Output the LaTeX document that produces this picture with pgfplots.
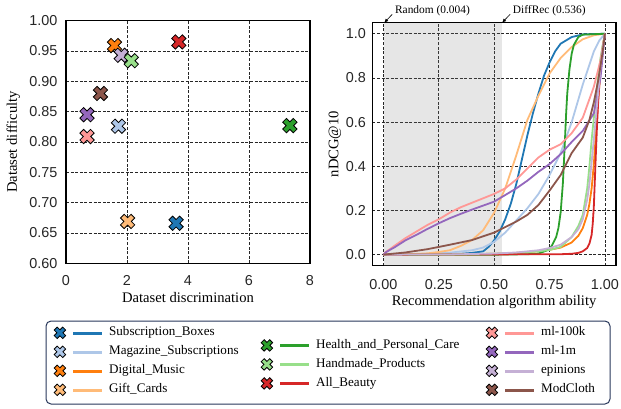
\documentclass[border=0pt]{standalone}
\usepackage{pgfplots}
\pgfplotsset{compat=1.18}
\usepackage{fontspec}
\setmainfont{Liberation Serif}
\newfontfamily\sansf{Liberation Sans}
\usetikzlibrary{arrows.meta}

\definecolor{cSB}{HTML}{1F77B4}
\definecolor{cMS}{HTML}{AEC7E8}
\definecolor{cDM}{HTML}{FF7F0E}
\definecolor{cGC}{HTML}{FFBB78}
\definecolor{cHP}{HTML}{2CA02C}
\definecolor{cHM}{HTML}{98DF8A}
\definecolor{cAB}{HTML}{D62728}
\definecolor{cMA}{HTML}{FF9896}
\definecolor{cMB}{HTML}{9467BD}
\definecolor{cEP}{HTML}{C5B0D5}
\definecolor{cMC}{HTML}{8C564B}
\definecolor{legframe}{RGB}{40,55,90}

\pgfdeclareplotmark{fatx}{%
  \pgfpathmoveto{\pgfpointpolar{0}{0.495\pgfplotmarksize}}%
  \pgfpathlineto{\pgfpointpolar{25.7}{1.06\pgfplotmarksize}}%
  \pgfpathlineto{\pgfpointpolar{64.3}{1.06\pgfplotmarksize}}%
  \pgfpathlineto{\pgfpointpolar{90}{0.495\pgfplotmarksize}}%
  \pgfpathlineto{\pgfpointpolar{115.7}{1.06\pgfplotmarksize}}%
  \pgfpathlineto{\pgfpointpolar{154.3}{1.06\pgfplotmarksize}}%
  \pgfpathlineto{\pgfpointpolar{180}{0.495\pgfplotmarksize}}%
  \pgfpathlineto{\pgfpointpolar{205.7}{1.06\pgfplotmarksize}}%
  \pgfpathlineto{\pgfpointpolar{244.3}{1.06\pgfplotmarksize}}%
  \pgfpathlineto{\pgfpointpolar{270}{0.495\pgfplotmarksize}}%
  \pgfpathlineto{\pgfpointpolar{295.7}{1.06\pgfplotmarksize}}%
  \pgfpathlineto{\pgfpointpolar{334.3}{1.06\pgfplotmarksize}}%
  \pgfpathclose
  \pgfusepathqfillstroke}

\pgfplotsset{
  myaxis/.style={scale only axis,
    axis line style={line width=1.1pt, black},
    major tick length=0pt,
    grid=major,
    major grid style={dash pattern=on 3pt off 1.6pt, line width=0.6pt, black!85},
    tick label style={font=\sansf\fontsize{14.4}{16}\selectfont, text=black!85},
    label style={font=\fontsize{14.6}{17}\selectfont},
    /pgf/number format/assume math mode=true},
  pt/.style={only marks, mark=fatx, mark size=7.5pt, mark options={draw=black, fill=#1, line width=0.8pt}},
  cv/.style={#1, line width=1.8pt, mark=none},
  hleg/.style={hide axis, scale only axis, width=10pt, height=10pt, xmin=0, xmax=1, ymin=0, ymax=1, anchor=south west,
    legend style={at={(0,0)}, anchor=west, draw=none, fill=none, inner sep=0pt,
      font=\fontsize{13.1}{15}\selectfont, row sep=5pt, legend cell align=left,
      nodes={inner sep=0pt, text height=10pt, text depth=4pt}}}
}

\newcommand{\legX}[2]{\addlegendimage{color=#1, legend image code/.code={%
  \fill[#1] (13pt,-0.9pt) rectangle (41pt,0.9pt);
  \path (49pt,0pt);
  \draw[black, line width=0.8pt, fill=#1, mark=fatx, mark size=6pt] plot coordinates {(0pt,0pt)};}}%
  \addlegendentry{#2}}

\begin{document}
\begin{tikzpicture}
\useasboundingbox (0,0) rectangle (621pt,-408pt);

% ---------------- left scatter ----------------
\begin{axis}[myaxis,
  at={(66pt,-263.3pt)}, anchor=south west,
  width=244pt, height=242.6pt,
  xmin=0, xmax=8, ymin=0.6, ymax=1.0,
  xtick={0,2,4,6,8},
  ytick={0.60,0.65,0.70,0.75,0.80,0.85,0.90,0.95,1.00},
  yticklabel style={xshift=-5pt, /pgf/number format/.cd, fixed, fixed zerofill, precision=2},
  xticklabel style={yshift=-9pt},
  xlabel={Dataset discrimination},
  ylabel={Dataset difficulty},
  xlabel style={at={(axis description cs:0.5,-0.143)}, anchor=center},
  ylabel style={at={(axis description cs:-0.216,0.5)}, anchor=center},
  clip=false]
\addplot[pt=cSB] coordinates {(3.61,0.666)};
\addplot[pt=cMS] coordinates {(1.72,0.826)};
\addplot[pt=cDM] coordinates {(1.59,0.959)};
\addplot[pt=cGC] coordinates {(2.02,0.669)};
\addplot[pt=cHP] coordinates {(7.34,0.827)};
\addplot[pt=cMA] coordinates {(0.69,0.809)};
\addplot[pt=cMB] coordinates {(0.69,0.845)};
\addplot[pt=cEP] coordinates {(1.81,0.943)};
\addplot[pt=cMC] coordinates {(1.13,0.880)};
\addplot[pt=cHM] coordinates {(2.14,0.934)};
\addplot[pt=cAB] coordinates {(3.70,0.965)};
\end{axis}

% ---------------- right curves ----------------
\begin{axis}[myaxis,
  at={(372.3pt,-265.7pt)}, anchor=south west,
  width=243.7pt, height=243pt,
  xmin=-0.05, xmax=1.05, ymin=-0.05, ymax=1.05,
  xtick={0,0.25,0.5,0.75,1},
  ytick={0,0.2,0.4,0.6,0.8,1.0},
  xticklabel style={yshift=-10pt, /pgf/number format/.cd, fixed, fixed zerofill, precision=2},
  yticklabel style={xshift=-3pt, /pgf/number format/.cd, fixed, fixed zerofill, precision=1},
  xlabel={Recommendation algorithm ability},
  ylabel={nDCG@10},
  xlabel style={at={(axis description cs:0.5,-0.148)}, anchor=center},
  ylabel style={at={(axis description cs:-0.153,0.5)}, anchor=center},
  clip=false]
\addplot[draw=none, fill=gray, fill opacity=0.2] coordinates {(0.004,-0.05) (0.536,-0.05) (0.536,1.05) (0.004,1.05)} -- cycle;

\addplot[cv=cSB] coordinates {(0,0) (0.1,0) (0.2,0.0005) (0.3,0.002) (0.35,0.004) (0.4,0.008) (0.45,0.015) (0.475,0.035) (0.5,0.065) (0.525,0.105) (0.55,0.16) (0.575,0.23) (0.6,0.32) (0.625,0.43) (0.65,0.54) (0.675,0.64) (0.7,0.73) (0.725,0.81) (0.75,0.87) (0.775,0.92) (0.8,0.955) (0.85,0.985) (0.9,0.997) (1,1)};
\addplot[cv=cMS] coordinates {(0,0) (0.1,0.001) (0.2,0.004) (0.3,0.009) (0.4,0.02) (0.45,0.032) (0.5,0.058) (0.55,0.1) (0.6,0.155) (0.65,0.21) (0.7,0.275) (0.75,0.36) (0.8,0.46) (0.85,0.6) (0.9,0.77) (0.95,0.92) (0.975,0.97) (1,1)};
\addplot[cv=cDM] coordinates {(0,0) (0.3,0.001) (0.5,0.004) (0.6,0.008) (0.7,0.016) (0.75,0.022) (0.8,0.032) (0.85,0.055) (0.88,0.085) (0.9,0.12) (0.92,0.18) (0.93,0.23) (0.94,0.3) (0.95,0.41) (0.96,0.56) (0.97,0.71) (0.98,0.84) (0.99,0.94) (1,1)};
\addplot[cv=cGC] coordinates {(0,0) (0.1,0.001) (0.2,0.006) (0.25,0.012) (0.3,0.02) (0.35,0.04) (0.4,0.066) (0.45,0.11) (0.5,0.19) (0.55,0.3) (0.6,0.45) (0.65,0.61) (0.7,0.72) (0.75,0.82) (0.8,0.89) (0.85,0.94) (0.9,0.975) (0.95,0.993) (1,1)};
\addplot[cv=cHP] coordinates {(0,0) (0.5,0) (0.65,0.002) (0.7,0.005) (0.74,0.02) (0.76,0.04) (0.78,0.08) (0.79,0.12) (0.8,0.19) (0.81,0.32) (0.815,0.42) (0.82,0.53) (0.825,0.64) (0.83,0.73) (0.84,0.84) (0.85,0.91) (0.86,0.95) (0.88,0.985) (0.9,0.996) (1,1)};
\addplot[cv=cHM] coordinates {(0,0) (0.3,0.001) (0.5,0.004) (0.6,0.008) (0.7,0.015) (0.75,0.021) (0.8,0.035) (0.85,0.08) (0.88,0.13) (0.9,0.18) (0.92,0.3) (0.93,0.4) (0.94,0.52) (0.95,0.62) (0.96,0.72) (0.97,0.81) (0.98,0.89) (0.99,0.95) (1,1)};
\addplot[cv=cAB] coordinates {(0,0) (0.8,0.002) (0.85,0.004) (0.88,0.008) (0.9,0.015) (0.92,0.03) (0.93,0.05) (0.94,0.09) (0.945,0.14) (0.95,0.22) (0.955,0.35) (0.96,0.48) (0.965,0.6) (0.97,0.7) (0.98,0.84) (0.99,0.93) (1,1)};
\addplot[cv=cMA] coordinates {(0,0) (0.01,0.012) (0.03,0.025) (0.05,0.04) (0.1,0.075) (0.15,0.105) (0.2,0.135) (0.25,0.16) (0.3,0.19) (0.35,0.215) (0.4,0.235) (0.45,0.255) (0.5,0.275) (0.55,0.3) (0.6,0.34) (0.65,0.39) (0.7,0.44) (0.75,0.475) (0.8,0.5) (0.85,0.55) (0.9,0.62) (0.95,0.76) (0.98,0.88) (1,1)};
\addplot[cv=cMB] coordinates {(0,0) (0.01,0.01) (0.03,0.022) (0.05,0.033) (0.1,0.065) (0.15,0.09) (0.2,0.117) (0.25,0.142) (0.3,0.165) (0.35,0.185) (0.4,0.204) (0.45,0.222) (0.5,0.24) (0.55,0.27) (0.6,0.3) (0.65,0.335) (0.7,0.375) (0.75,0.41) (0.8,0.455) (0.85,0.51) (0.9,0.56) (0.95,0.64) (0.98,0.8) (1,1)};
\addplot[cv=cEP] coordinates {(0,0) (0.3,0.001) (0.5,0.005) (0.6,0.01) (0.7,0.02) (0.75,0.03) (0.8,0.045) (0.85,0.08) (0.88,0.115) (0.9,0.16) (0.92,0.25) (0.93,0.32) (0.94,0.42) (0.95,0.52) (0.96,0.63) (0.97,0.74) (0.98,0.85) (0.99,0.93) (1,1)};
\addplot[cv=cMC] coordinates {(0,0) (0.1,0.01) (0.2,0.025) (0.3,0.045) (0.4,0.066) (0.5,0.1) (0.6,0.15) (0.65,0.18) (0.7,0.225) (0.75,0.29) (0.8,0.36) (0.85,0.46) (0.9,0.53) (0.93,0.61) (0.95,0.69) (0.97,0.79) (0.99,0.92) (1,1)};

\draw[-{Latex[length=4pt,width=3.5pt]}, line width=0.6pt] (axis cs:0.04,1.088) -- (axis cs:0.004,1.05);
\node[anchor=west, font=\fontsize{11.4}{13}\selectfont, inner sep=0pt] at (axis cs:0.052,1.105) {Random (0.004)};
\draw[-{Latex[length=4pt,width=3.5pt]}, line width=0.6pt] (axis cs:0.572,1.088) -- (axis cs:0.536,1.05);
\node[anchor=west, font=\fontsize{11.4}{13}\selectfont, inner sep=0pt] at (axis cs:0.584,1.105) {DiffRec (0.536)};
\end{axis}

% ---------------- legend ----------------
\draw[rounded corners=5pt, line width=1pt, legframe] (46pt,-321pt) rectangle (610pt,-404pt);

\begin{axis}[hleg, at={(54pt,-361.3pt)}]
\legX{cSB}{Subscription\_Boxes}
\legX{cMS}{Magazine\_Subscriptions}
\legX{cDM}{Digital\_Music}
\legX{cGC}{Gift\_Cards}
\end{axis}
\begin{axis}[hleg, at={(261pt,-364.4pt)}]
\legX{cHP}{Health\_and\_Personal\_Care}
\legX{cHM}{Handmade\_Products}
\legX{cAB}{All\_Beauty}
\end{axis}
\begin{axis}[hleg, at={(486pt,-361.3pt)}]
\legX{cMA}{ml-100k}
\legX{cMB}{ml-1m}
\legX{cEP}{epinions}
\legX{cMC}{ModCloth}
\end{axis}
\end{tikzpicture}
\end{document}
